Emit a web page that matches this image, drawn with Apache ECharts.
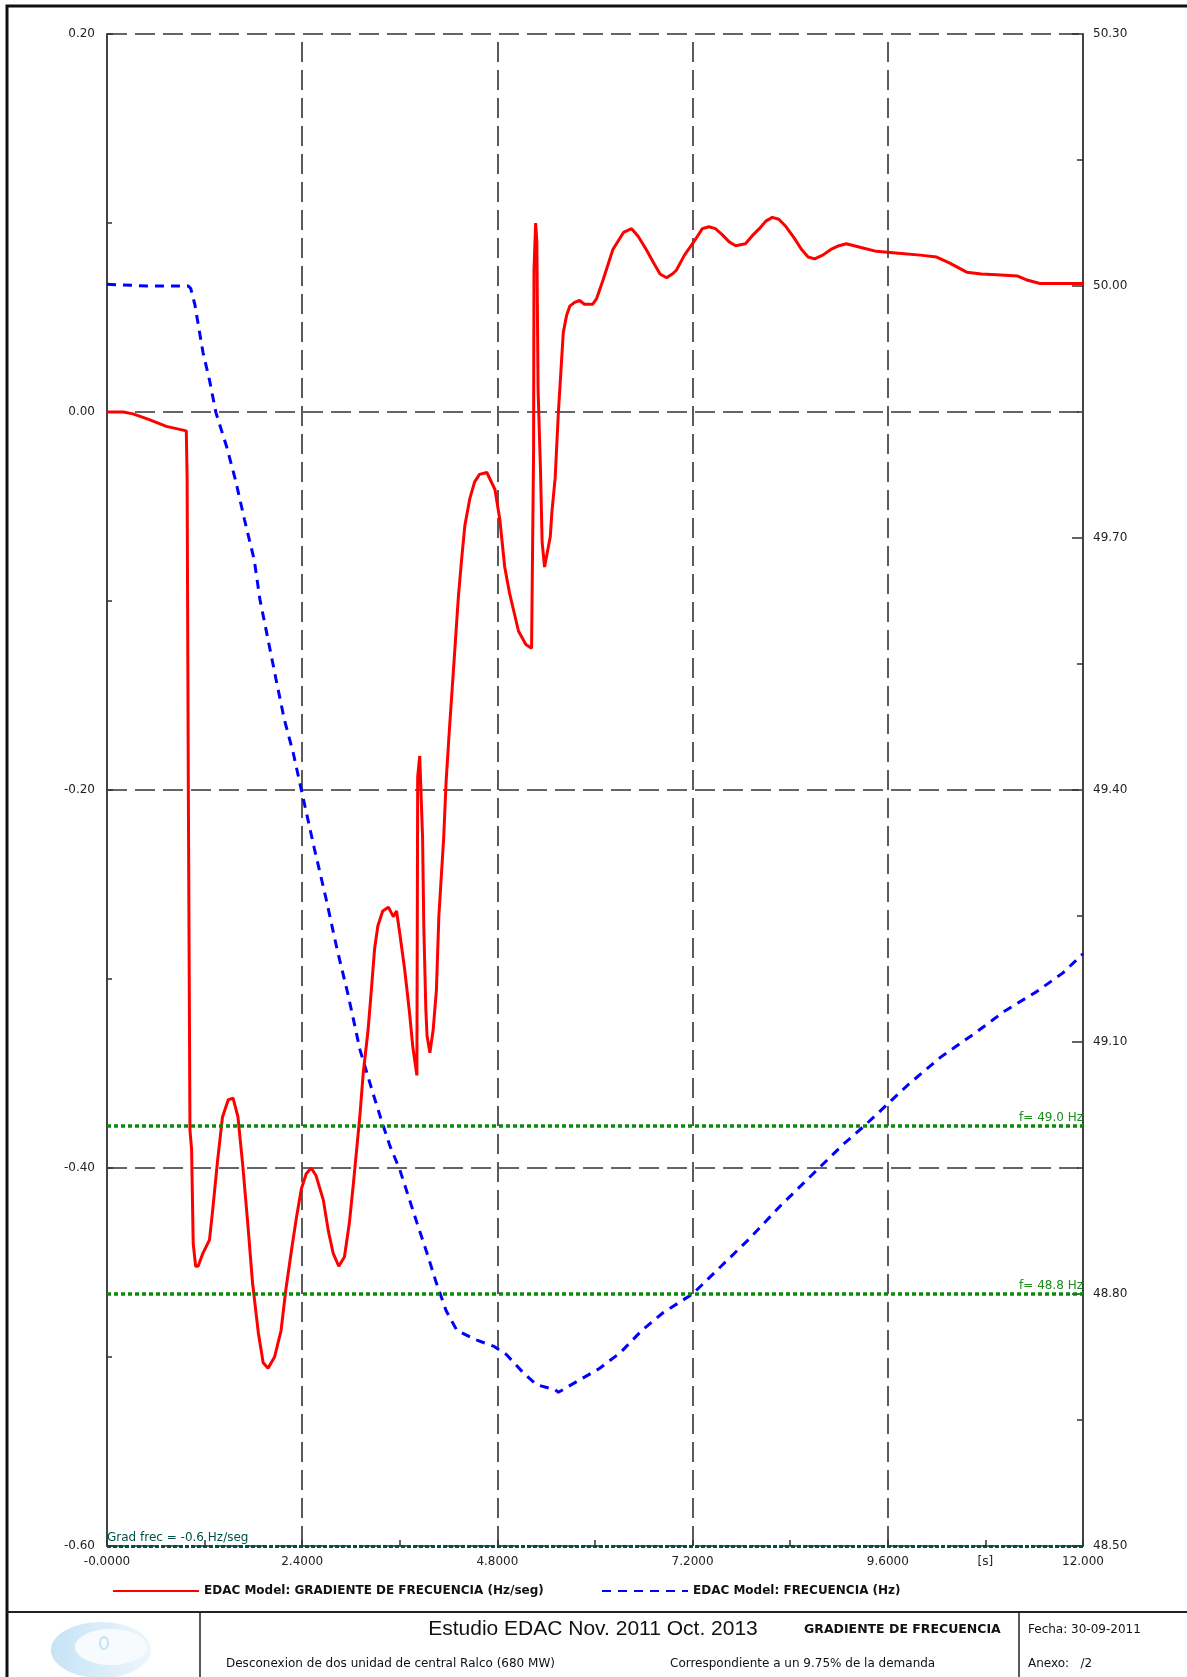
<!DOCTYPE html>
<html>
<head>
<meta charset="utf-8">
<title>EDAC - Gradiente de frecuencia</title>
<script src="https://cdn.jsdelivr.net/npm/echarts@6/dist/echarts.min.js"></script>
<style>
    html, body { margin: 0; padding: 0; background: #fff; }
    #chart { width: 1187px; height: 1677px; }
</style>
</head>
<body>
<div id="chart"></div>
<script>
// Gradiente de frecuencia (Hz/seg), eje izquierdo
const gradTime = [0, 0.20, 0.32, 0.52, 0.73, 0.975, 0.985, 1.00, 1.02, 1.04,
    1.06, 1.09, 1.12, 1.18, 1.26, 1.30, 1.36, 1.42, 1.49, 1.55,
    1.61, 1.67, 1.73, 1.79, 1.86, 1.92, 1.98, 2.06, 2.14, 2.20,
    2.27, 2.33, 2.39, 2.45, 2.51, 2.57, 2.66, 2.72, 2.78, 2.85,
    2.92, 2.98, 3.03, 3.07, 3.11, 3.15, 3.21, 3.25, 3.29, 3.33,
    3.39, 3.46, 3.52, 3.56, 3.60, 3.66, 3.72, 3.76, 3.81, 3.82,
    3.845, 3.88, 3.895, 3.92, 3.935, 3.97, 4.01, 4.05, 4.08, 4.11,
    4.14, 4.17, 4.21, 4.27, 4.32, 4.36, 4.40, 4.46, 4.52, 4.58,
    4.67, 4.77, 4.83, 4.89, 4.95, 5.06, 5.15, 5.22, 5.245, 5.25,
    5.27, 5.285, 5.30, 5.33, 5.35, 5.38, 5.40, 5.45, 5.47, 5.51,
    5.55, 5.57, 5.61, 5.65, 5.69, 5.75, 5.81, 5.87, 5.97, 6.02,
    6.10, 6.22, 6.35, 6.45, 6.53, 6.63, 6.72, 6.80, 6.88, 6.95,
    7.00, 7.10, 7.23, 7.32, 7.40, 7.48, 7.56, 7.65, 7.73, 7.85,
    7.95, 8.02, 8.10, 8.18, 8.26, 8.35, 8.45, 8.54, 8.62, 8.70,
    8.80, 8.90, 9.00, 9.09, 9.27, 9.46, 9.73, 10.00, 10.20, 10.35,
    10.57, 10.75, 10.94, 11.19, 11.30, 11.47, 11.70, 12.00];
const gradValue = [0, 0, -0.001, -0.004, -0.0076, -0.010, -0.035, -0.20, -0.38, -0.39,
    -0.44, -0.452, -0.452, -0.445, -0.438, -0.422, -0.396, -0.373, -0.364, -0.363,
    -0.373, -0.399, -0.429, -0.461, -0.487, -0.503, -0.506, -0.500, -0.486, -0.464,
    -0.443, -0.426, -0.411, -0.403, -0.400, -0.404, -0.417, -0.433, -0.445, -0.452,
    -0.447, -0.429, -0.408, -0.390, -0.372, -0.350, -0.327, -0.306, -0.284, -0.272,
    -0.264, -0.262, -0.267, -0.264, -0.276, -0.295, -0.318, -0.336, -0.351, -0.193,
    -0.182, -0.225, -0.272, -0.316, -0.330, -0.339, -0.327, -0.306, -0.267, -0.246,
    -0.225, -0.195, -0.168, -0.130, -0.098, -0.078, -0.060, -0.046, -0.037, -0.033,
    -0.032, -0.041, -0.057, -0.082, -0.096, -0.116, -0.123, -0.125, -0.020, 0.075,
    0.100, 0.090, 0.012, -0.031, -0.069, -0.082, -0.082, -0.066, -0.053, -0.035,
    0.000, 0.014, 0.042, 0.051, 0.056, 0.058, 0.059, 0.057, 0.057, 0.060,
    0.070, 0.086, 0.095, 0.097, 0.093, 0.086, 0.079, 0.073, 0.071, 0.073,
    0.075, 0.083, 0.091, 0.097, 0.098, 0.097, 0.094, 0.090, 0.088, 0.089,
    0.094, 0.097, 0.101, 0.103, 0.102, 0.098, 0.092, 0.086, 0.082, 0.081,
    0.083, 0.086, 0.088, 0.089, 0.087, 0.085, 0.084, 0.083, 0.082, 0.079,
    0.074, 0.073, 0.0726, 0.072, 0.070, 0.068, 0.068, 0.068];

// Frecuencia (Hz), eje derecho
const freqTime = [0, 0.50, 1.00, 1.03, 1.08, 1.18, 1.26, 1.34, 1.47, 1.58,
    1.69, 1.81, 1.88, 1.98, 2.08, 2.18, 2.29, 2.39, 2.55, 2.69,
    2.83, 2.96, 3.11, 3.27, 3.38, 3.48, 3.60, 3.70, 3.81, 3.93,
    4.05, 4.17, 4.30, 4.52, 4.75, 4.91, 5.12, 5.28, 5.51, 5.55,
    5.78, 6.05, 6.31, 6.57, 6.84, 7.20, 7.55, 7.89, 8.28, 8.67,
    9.05, 9.31, 9.86, 10.25, 10.65, 11.04, 11.43, 11.75, 12.00];
const freqValue = [50.002, 50.000, 50.000, 49.997, 49.978, 49.921, 49.888, 49.849, 49.809, 49.769,
    49.722, 49.674, 49.627, 49.579, 49.531, 49.484, 49.444, 49.400, 49.330, 49.272,
    49.210, 49.158, 49.091, 49.039, 49.005, 48.976, 48.948, 48.918, 48.885, 48.850,
    48.813, 48.780, 48.757, 48.746, 48.738, 48.728, 48.706, 48.692, 48.686, 48.683,
    48.696, 48.711, 48.730, 48.756, 48.778, 48.800, 48.833, 48.865, 48.905, 48.942,
    48.978, 49.000, 49.050, 49.082, 49.109, 49.137, 49.160, 49.182, 49.205];

// etiquetas de los ejes
const xTickLabels = ['-0.0000', '', '2.4000', '', '4.8000', '', '7.2000', '', '9.6000', '[s]', '12.000'];
const leftTickLabels = ['-0.60', '-0.40', '-0.20', '0.00', '0.20'];
const rightTickLabels = ['48.50', '48.80', '49.10', '49.40', '49.70', '50.00', '50.30'];
const xGridLines = [2.4, 4.8, 7.2, 9.6];

// umbrales
const freqLimits = [49.0, 48.8];
const freqLimitLabels = ['f= 49.0 Hz', 'f= 48.8 Hz'];
const gradLimit = -0.6;
const gradLimitLabel = 'Grad frec = -0.6 Hz/seg';

const serieGrad = 'EDAC Model: GRADIENTE DE FRECUENCIA (Hz/seg)';
const serieFreq = 'EDAC Model: FRECUENCIA (Hz)';

const FONT = 'DejaVu Sans';

document.addEventListener('DOMContentLoaded', function() {
    const myChart = echarts.init(document.getElementById('chart'));

    const gridDash = { color: '#333', width: 1.6, type: [20, 8] };

    // lineas verticales de la grilla + limite de gradiente
    const gradMarks = xGridLines.map(function(x) {
        return { xAxis: x, lineStyle: gridDash, label: { show: false } };
    });
    gradMarks.push({
        yAxis: gradLimit,
        lineStyle: { color: '#00504a', width: 3, type: [4, 2] },
        label: {
            show: true,
            position: 'insideStartTop',
            formatter: gradLimitLabel,
            color: '#00504a',
            fontFamily: FONT,
            fontSize: 12,
            distance: [0, 2]
        }
    });

    const freqMarks = freqLimits.map(function(f, i) {
        return {
            yAxis: f,
            lineStyle: { color: '#0a8a0a', width: 3.5, type: [4, 3] },
            label: {
                show: true,
                position: 'insideEndTop',
                formatter: freqLimitLabels[i],
                color: '#1a8c1a',
                fontFamily: FONT,
                fontSize: 12,
                distance: [0, 2]
            }
        };
    });

    const legendBase = {
        top: 1580,
        itemWidth: 86, itemHeight: 14,
        itemStyle: { opacity: 0 },
        textStyle: { fontFamily: FONT, fontWeight: 'bold', fontSize: 12, color: '#111' }
    };

    const option = {
        animation: false,
        backgroundColor: '#fff',
        grid: { left: 107, top: 34, width: 976, height: 1512 },
        legend: [
            Object.assign({ data: [serieGrad], left: 107 }, legendBase),
            Object.assign({ data: [serieFreq], left: 596 }, legendBase)
        ],
        xAxis: {
            type: 'value',
            min: 0, max: 12, interval: 1.2,
            axisLine: { show: false, onZero: false },
            axisTick: { show: true, inside: true, length: 6, lineStyle: { color: '#333', width: 1.5 } },
            splitLine: { show: false },
            axisLabel: {
                margin: 10,
                fontFamily: FONT, fontSize: 12, color: '#222',
                formatter: function(v) {
                    return xTickLabels[Math.round(v / 1.2)] || '';
                }
            }
        },
        yAxis: [
            {
                type: 'value',
                position: 'left',
                min: -0.6, max: 0.2, interval: 0.2,
                axisLine: { show: true, lineStyle: { color: '#444', width: 2 } },
                axisTick: { show: true, inside: true, length: 6, lineStyle: { color: '#333', width: 1.5 } },
                minorTick: { show: true, splitNumber: 2, length: 5, lineStyle: { color: '#333', width: 1.5 } },
                splitLine: { show: true, lineStyle: gridDash },
                axisLabel: {
                    margin: 12,
                    fontFamily: FONT, fontSize: 12, color: '#222',
                    formatter: function(v) {
                        return leftTickLabels[Math.round((v + 0.6) / 0.2)] || '';
                    }
                }
            },
            {
                type: 'value',
                position: 'right',
                min: 48.5, max: 50.3, interval: 0.3,
                axisLine: { show: true, lineStyle: { color: '#444', width: 2 } },
                axisTick: { show: true, inside: true, length: 11, lineStyle: { color: '#333', width: 1.5 } },
                minorTick: { show: true, splitNumber: 2, length: 6, lineStyle: { color: '#333', width: 1.5 } },
                splitLine: { show: false },
                axisLabel: {
                    margin: 10,
                    fontFamily: FONT, fontSize: 12, color: '#222',
                    formatter: function(v) {
                        return rightTickLabels[Math.round((v - 48.5) / 0.3)] || '';
                    }
                }
            }
        ],
        series: [
            {
                name: serieFreq,
                type: 'line',
                yAxisIndex: 1,
                symbol: 'none',
                smooth: false,
                data: freqTime.map(function(t, i) { return [t, freqValue[i]]; }),
                lineStyle: { color: '#0000ff', width: 3, type: [9, 7] },
                itemStyle: { color: '#0000ff' },
                z: 3,
                markLine: {
                    silent: true,
                    symbol: ['none', 'none'],
                    data: freqMarks
                }
            },
            {
                name: serieGrad,
                type: 'line',
                yAxisIndex: 0,
                symbol: 'none',
                smooth: false,
                data: gradTime.map(function(t, i) { return [t, gradValue[i]]; }),
                lineStyle: { color: '#ff0000', width: 3 },
                itemStyle: { color: '#ff0000' },
                z: 4,
                markLine: {
                    silent: true,
                    symbol: ['none', 'none'],
                    z: 1,
                    data: gradMarks
                }
            }
        ],
        graphic: [
            // marco exterior
            { type: 'rect', shape: { x: 7, y: 6, width: 1200, height: 1700 },
              style: { fill: 'none', stroke: '#111', lineWidth: 3 }, silent: true },
            // cajetin inferior
            { type: 'line', shape: { x1: 7, y1: 1612, x2: 1187, y2: 1612 },
              style: { stroke: '#222', lineWidth: 2 }, silent: true },
            { type: 'line', shape: { x1: 200, y1: 1612, x2: 200, y2: 1677 },
              style: { stroke: '#222', lineWidth: 1.5 }, silent: true },
            { type: 'line', shape: { x1: 1019, y1: 1612, x2: 1019, y2: 1677 },
              style: { stroke: '#222', lineWidth: 1.5 }, silent: true },
            // logo
            { type: 'ellipse', shape: { cx: 101, cy: 1650, rx: 50, ry: 28 },
              style: { fill: new echarts.graphic.LinearGradient(0, 0, 1, 0, [
                  { offset: 0, color: '#c6e3f5' }, { offset: 1, color: '#eef6fc' }]) }, silent: true },
            { type: 'ellipse', shape: { cx: 111, cy: 1647, rx: 36, ry: 18 },
              style: { fill: '#f7fbfe' }, silent: true },
            { type: 'ellipse', shape: { cx: 104, cy: 1643, rx: 4, ry: 6 },
              style: { fill: 'none', stroke: '#c6e3f5', lineWidth: 2 }, silent: true },
            // textos del cajetin
            { type: 'text', x: 593, y: 1629,
              style: { text: 'Estudio EDAC Nov. 2011 Oct. 2013', fill: '#111',
                       font: '21px "Liberation Sans", Arial, sans-serif', align: 'center', verticalAlign: 'middle' } },
            { type: 'text', x: 804, y: 1630,
              style: { text: 'GRADIENTE DE FRECUENCIA', fill: '#111',
                       font: 'bold 12.5px "DejaVu Sans"', align: 'left', verticalAlign: 'middle' } },
            { type: 'text', x: 1028, y: 1630,
              style: { text: 'Fecha: 30-09-2011', fill: '#111',
                       font: '12px "DejaVu Sans"', align: 'left', verticalAlign: 'middle' } },
            { type: 'text', x: 226, y: 1664,
              style: { text: 'Desconexion de dos unidad de central Ralco (680 MW)', fill: '#111',
                       font: '12px "DejaVu Sans"', align: 'left', verticalAlign: 'middle' } },
            { type: 'text', x: 670, y: 1664,
              style: { text: 'Correspondiente a un 9.75% de la demanda', fill: '#111',
                       font: '12px "DejaVu Sans"', align: 'left', verticalAlign: 'middle' } },
            { type: 'text', x: 1028, y: 1664,
              style: { text: 'Anexo:   /2', fill: '#111',
                       font: '12px "DejaVu Sans"', align: 'left', verticalAlign: 'middle' } }
        ]
    };

    myChart.setOption(option);

    window.addEventListener('resize', function() {
        myChart.resize();
    });
});
</script>
</body>
</html>
